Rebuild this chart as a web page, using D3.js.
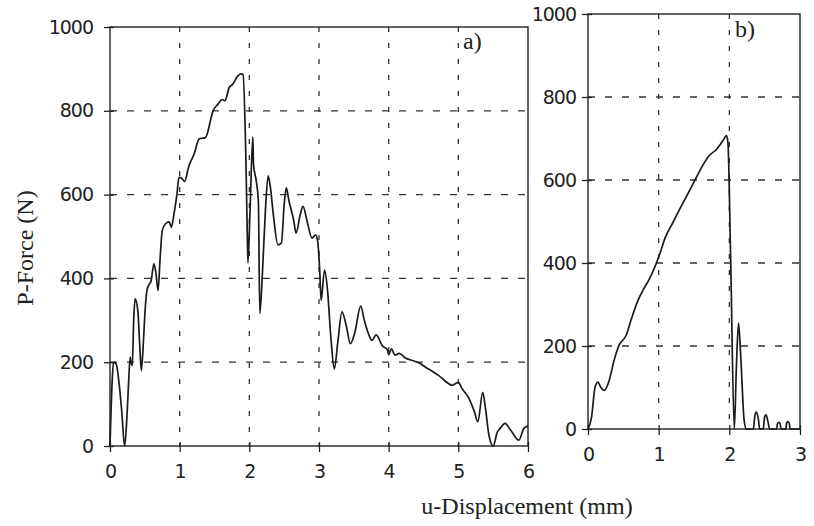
<!DOCTYPE html>
<html>
<head>
<meta charset="utf-8">
<script src="https://cdn.jsdelivr.net/npm/d3@7"></script>
<style>
  body { margin: 0; background: #fff; }
  .tick text { font-family: 'DejaVu Sans', sans-serif; font-size: 19px; letter-spacing: -1px; fill: #222; }
  .serif { font-family: 'Liberation Serif', 'Times New Roman', serif; font-size: 24px; fill: #222; }
</style>
</head>
<body>
<svg id="chart" width="814" height="526"></svg>
<script>
// panel a) displacement (mm) / force (N)
const uA = [0, 0.03, 0.05, 0.09, 0.13, 0.17, 0.21, 0.24, 0.26, 0.29, 0.30, 0.32, 0.34, 0.36, 0.40, 0.43, 0.45, 0.48,
  0.50, 0.53, 0.56, 0.59, 0.63, 0.66, 0.69, 0.72, 0.75, 0.80, 0.85, 0.88, 0.92, 0.96, 0.99, 1.03, 1.07, 1.13, 1.21,
  1.28, 1.37, 1.48, 1.55, 1.61, 1.65, 1.71, 1.76, 1.83, 1.88, 1.91, 1.95, 1.97, 1.98, 2.01, 2.05, 2.06, 2.10, 2.13,
  2.15, 2.19, 2.23, 2.27, 2.30, 2.35, 2.41, 2.46, 2.50, 2.53, 2.57, 2.64, 2.67, 2.73, 2.77, 2.83, 2.90, 2.95, 2.98,
  3.01, 3.03, 3.08, 3.12, 3.17, 3.22, 3.27, 3.33, 3.39, 3.45, 3.51, 3.60, 3.65, 3.71, 3.76, 3.82, 3.91, 3.98, 4.00,
  4.04, 4.09, 4.15, 4.24, 4.34, 4.44, 4.53, 4.63, 4.72, 4.82, 4.91, 5.00, 5.05, 5.15, 5.23, 5.28, 5.35, 5.39, 5.44,
  5.50, 5.56, 5.60, 5.67, 5.75, 5.87, 5.94, 6.00]
const pA = [0, 150, 200, 195, 150, 80, 0, 60, 127, 212, 200, 192, 300, 351, 322, 230, 180, 250,
  314, 371, 385, 394, 435, 412, 371, 450, 514, 531, 535, 522, 555, 600, 641, 639, 631, 667, 698,
  733, 736, 800, 816, 827, 824, 855, 863, 882, 888, 886, 688, 512, 437, 560, 738, 672, 632, 584,
  316, 420, 560, 645, 620, 544, 480, 484, 576, 616, 584, 536, 508, 552, 572, 536, 496, 504, 490,
  420, 348, 420, 376, 260, 184, 248, 320, 288, 244, 268, 334, 300, 268, 252, 265, 239, 230, 218,
  232, 217, 221, 210, 204, 198, 188, 178, 168, 154, 145, 152, 138, 114, 82, 58, 128, 89, 25,
  0, 33, 42, 54, 38, 14, 42, 48]

// panel b)
const uB = [0, 0.05, 0.10, 0.14, 0.18, 0.23, 0.30, 0.37, 0.44, 0.54, 0.61, 0.71, 0.78, 0.86, 0.94, 1.02, 1.09,
  1.20, 1.32, 1.42, 1.52, 1.62, 1.71, 1.82, 1.91, 1.96, 1.98, 2.02, 2.07, 2.10, 2.13, 2.16, 2.21, 2.24, 2.34,
  2.36, 2.38, 2.41, 2.43, 2.48, 2.50, 2.52, 2.55, 2.57, 2.67, 2.68, 2.70, 2.72, 2.73, 2.80, 2.81, 2.83, 2.85,
  2.86, 3.00]
const pB = [0, 28, 101, 113, 101, 93, 117, 166, 202, 226, 263, 311, 335, 359, 388, 424, 460,
  497, 537, 569, 602, 634, 658, 674, 695, 707, 690, 400, 0, 150, 255, 180, 20, 0, 0,
  30, 41, 25, 0, 0, 30, 34, 15, 0, 0, 12, 16, 12, 0, 0, 14, 18, 12,
  0, 0]

const ticksAx = [0, 1, 2, 3, 4, 5, 6]
const ticksBx = [0, 1, 2, 3]
const ticksY = [0, 200, 400, 600, 800, 1000]

const svg = d3.select('#chart')

function panel(cfg) {
  const x = d3.scaleLinear().domain([0, cfg.xMax]).range([cfg.left, cfg.right])
  const y = d3.scaleLinear().domain([0, 1000]).range([cfg.bottom, cfg.top])
  const g = svg.append('g').attr('color', '#222')

  // grid
  g.selectAll('.vgrid')
    .data(cfg.xTicks.filter(t => t > 0 && t < cfg.xMax))
    .join('line')
      .attr('x1', d => x(d)).attr('x2', d => x(d))
      .attr('y1', cfg.top).attr('y2', cfg.bottom)
      .attr('stroke', '#333').attr('stroke-width', 1.3)
      .attr('stroke-dasharray', '5 11')

  g.selectAll('.hgrid')
    .data(ticksY.filter(t => t > 0 && t < 1000))
    .join('line')
      .attr('x1', cfg.left).attr('x2', cfg.right)
      .attr('y1', d => y(d)).attr('y2', d => y(d))
      .attr('stroke', '#333').attr('stroke-width', 1.3)
      .attr('stroke-dasharray', '7 10')

  // frame
  g.append('rect')
    .attr('x', cfg.left).attr('y', cfg.top)
    .attr('width', cfg.right - cfg.left).attr('height', cfg.bottom - cfg.top)
    .attr('fill', 'none').attr('stroke', '#222').attr('stroke-width', 1.4)

  // axes, ticks cross the frame
  g.append('g')
    .attr('transform', `translate(0, ${cfg.bottom})`)
    .call(d3.axisBottom(x).tickValues(cfg.xTicks).tickFormat(d3.format('d')).tickSize(6).tickPadding(13))
    .call(a => a.select('.domain').remove())
  g.append('g')
    .attr('transform', `translate(0, ${cfg.bottom})`)
    .call(d3.axisBottom(x).tickValues(cfg.xTicks).tickFormat('').tickSize(-4))
    .call(a => a.select('.domain').remove())

  g.append('g')
    .attr('transform', `translate(${cfg.left}, 0)`)
    .call(d3.axisLeft(y).tickValues(ticksY).tickFormat(d3.format('d')).tickSize(6).tickPadding(cfg.yPad))
    .call(a => a.select('.domain').remove())
  g.append('g')
    .attr('transform', `translate(${cfg.left}, 0)`)
    .call(d3.axisLeft(y).tickValues(ticksY).tickFormat('').tickSize(-4))
    .call(a => a.select('.domain').remove())

  g.selectAll('.tick line').attr('stroke-width', 1.3)

  const line = d3.line()
    .x(d => x(d[0]))
    .y(d => y(d[1]))
    .curve(d3.curveMonotoneX)

  g.append('path')
    .datum(d3.zip(cfg.u, cfg.p))
    .attr('d', line)
    .attr('fill', 'none')
    .attr('stroke', '#1a1a1a')
    .attr('stroke-width', 1.7)
    .attr('stroke-linejoin', 'round')

  g.append('text')
    .attr('class', 'serif')
    .attr('x', cfg.tagX).attr('y', cfg.tagY)
    .text(cfg.tag)
}

panel({ left: 110, right: 528, top: 27, bottom: 446, xMax: 6, xTicks: ticksAx,
  u: uA, p: pA, tag: 'a)', tagX: 463, tagY: 49, yPad: 11 })

panel({ left: 588, right: 800, top: 14, bottom: 429, xMax: 3, xTicks: ticksBx,
  u: uB, p: pB, tag: 'b)', tagX: 735, tagY: 37, yPad: 6 })

// y axis label
svg.append('text')
  .attr('class', 'serif')
  .attr('text-anchor', 'middle')
  .attr('transform', 'translate(25, 248) rotate(-90)')
  .attr('dy', '0.35em')
  .text('P-Force (N)')

// x axis label
svg.append('text')
  .attr('class', 'serif')
  .attr('text-anchor', 'middle')
  .attr('x', 527).attr('y', 514)
  .text('u-Displacement (mm)')
</script>
</body>
</html>
